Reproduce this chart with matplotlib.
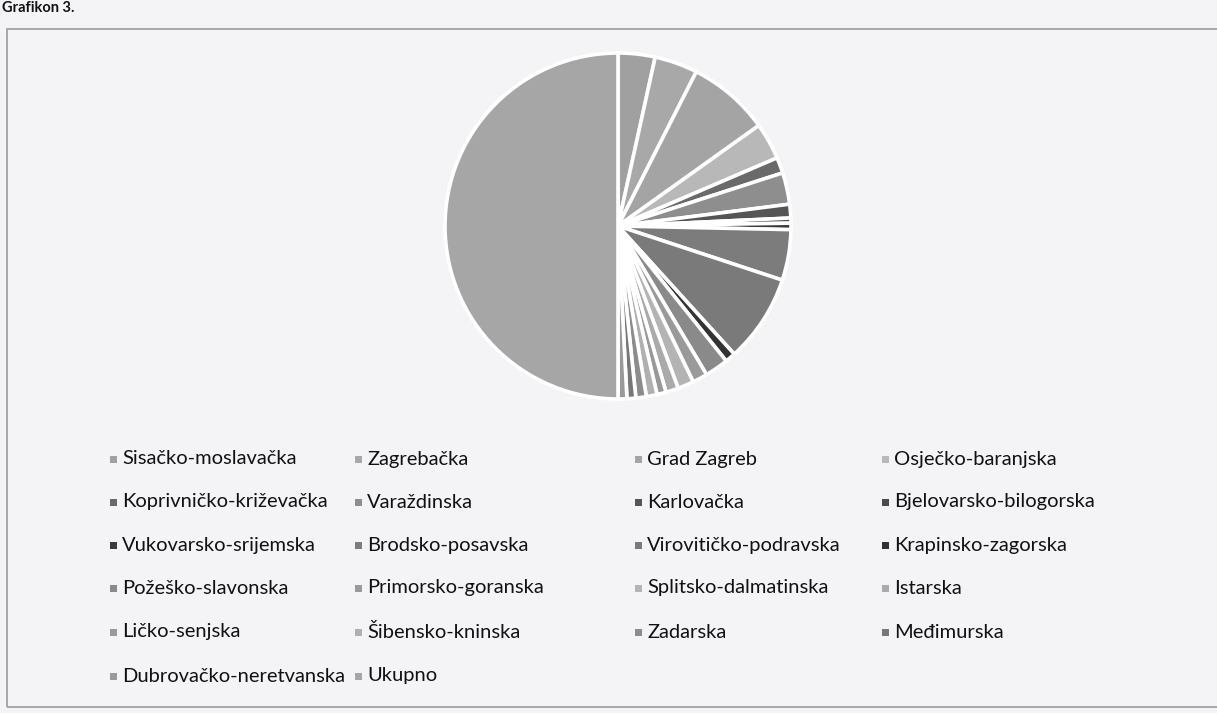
import matplotlib.pyplot as plt
from matplotlib.patches import Rectangle

# counties (legend order, row by row) and estimated values
counties = ["Sisačko-moslavačka", "Zagrebačka", "Grad Zagreb", "Osječko-baranjska",
            "Koprivničko-križevačka", "Varaždinska", "Karlovačka", "Bjelovarsko-bilogorska",
            "Vukovarsko-srijemska", "Brodsko-posavska", "Virovitičko-podravska", "Krapinsko-zagorska",
            "Požeško-slavonska", "Primorsko-goranska", "Splitsko-dalmatinska", "Istarska",
            "Ličko-senjska", "Šibensko-kninska", "Zadarska", "Međimurska",
            "Dubrovačko-neretvanska"]
values = [138, 161, 306, 137, 59, 118, 51, 19, 24, 189, 328, 39,
          88, 56, 60, 47, 34, 40, 39, 33, 33]
total_label = "Ukupno"
total_value = sum(values)

grays = ["#a0a0a0", "#a8a8a8", "#a4a4a4", "#b8b8b8", "#6a6a6a", "#8e8e8e", "#555555",
         "#4a4a4a", "#3a3a3a", "#7c7c7c", "#7a7a7a", "#333333", "#8a8a8a", "#9a9a9a",
         "#b4b4b4", "#aaaaaa", "#999999", "#b0b0b0", "#8c8c8c", "#777777", "#999999",
         "#a6a6a6"]

labels = counties + [total_label]
data = values + [total_value]

W, H = 1217, 713
bg = "#f4f4f6"
fig = plt.figure(figsize=(W / 100, H / 100), dpi=100, facecolor=bg)

# chart frame
fig.patches.append(Rectangle((7 / W, 1 - 707 / H), 1.2, (707 - 29) / H,
                             transform=fig.transFigure, fill=False,
                             edgecolor="#9a9a9a", linewidth=1.2))
fig.text(2 / W, 1 - 12 / H, "Grafikon 3.", fontsize=10.5, fontweight="bold",
         family="Lato", color="#111111", va="baseline")

# pie
cx, cy, r = 618, 226, 173
box = 176
ax = fig.add_axes([(cx - box) / W, (H - cy - box) / H, 2 * box / W, 2 * box / H])
ax.set_facecolor(bg)
ax.pie(data, colors=grays, startangle=90, counterclock=False, radius=r / box,
       wedgeprops=dict(edgecolor="white", linewidth=2.6))
ax.set_xlim(-1, 1)
ax.set_ylim(-1, 1)
ax.set_aspect("auto")
ax.axis("off")

# legend, 4 columns, row-major like the original
col_x = [110, 355, 635, 882]
row_y = [459, 502, 545, 588, 632, 676]
for i, (lab, col) in enumerate(zip(labels, grays)):
    row, c = divmod(i, 4)
    x, y = col_x[c], row_y[row]
    fig.patches.append(Rectangle((x / W, 1 - (y + 3.5) / H), 7 / W, 7 / H,
                                 transform=fig.transFigure, facecolor=col,
                                 edgecolor="none"))
    fig.text((x + 12) / W, 1 - y / H, lab, fontsize=14.5, family="Lato",
             color="#111111", va="center", ha="left")

fig.savefig("out.png", dpi=100, facecolor=bg)
